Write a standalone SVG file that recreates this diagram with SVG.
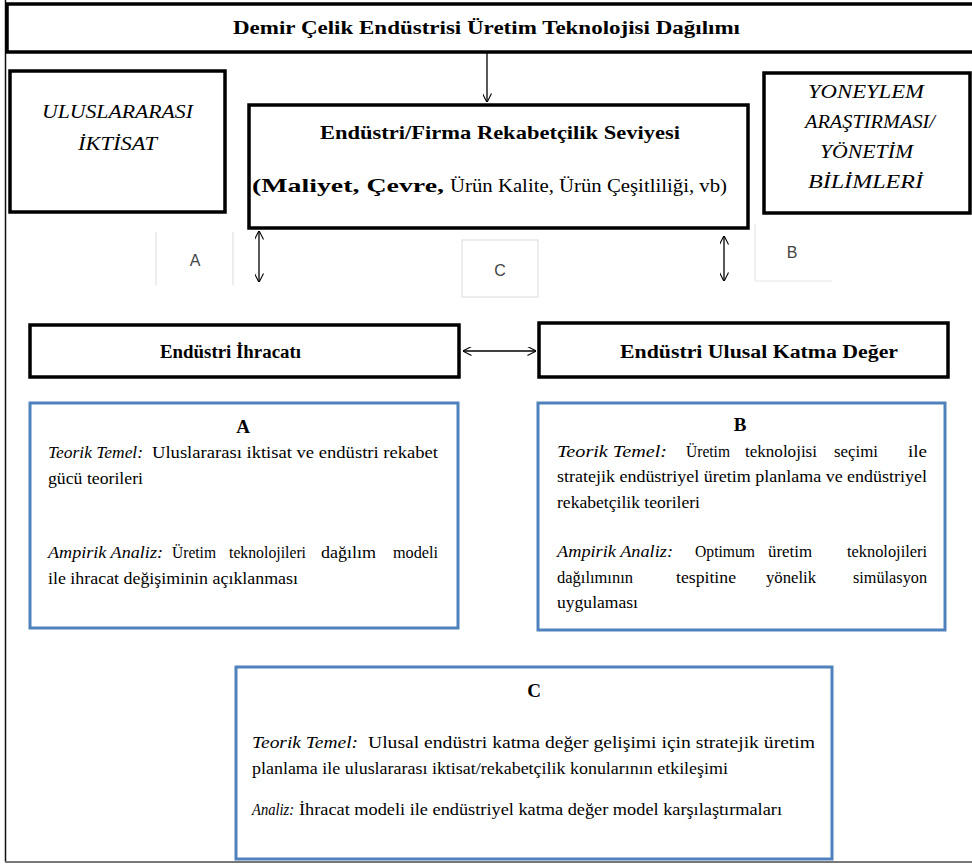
<svg xmlns="http://www.w3.org/2000/svg" width="972" height="864" viewBox="0 0 972 864">
<style>
.bk{fill:#fff;stroke:#000;stroke-width:3.5}
.bl{fill:#fff;stroke:#4f81bd;stroke-width:3}
.lb{fill:#fff;stroke:#e2e2e2;stroke-width:1.2}
text{font-family:'Liberation Serif','Times New Roman',serif;fill:#000}
.b{font-weight:bold}
.i{font-style:italic}
text.s{font-family:'Liberation Sans',Arial,sans-serif;fill:#444;font-size:16px}
.c{stroke:#000;stroke-width:1.3;fill:none}
</style>
<defs>
<marker id="ah" viewBox="0 0 10 10" refX="9.5" refY="5" markerWidth="9" markerHeight="9" orient="auto-start-reverse" markerUnits="userSpaceOnUse"><path d="M0,0 L10,5 L0,10" fill="none" stroke="#000" stroke-width="1.2"/></marker>
</defs>
<rect width="972" height="864" fill="#fff"/>
<g id="frame">
<line x1="5.5" y1="0" x2="5.5" y2="862" stroke="#111" stroke-width="1.5"/>
<line x1="5" y1="862" x2="972" y2="862" stroke="#777" stroke-width="2"/>
</g>
<g id="title">
<rect class="bk" x="7" y="4" width="975" height="48" stroke-width="3"/>
<text class="b" x="233" y="34" font-size="19" textLength="507" lengthAdjust="spacingAndGlyphs">Demir Çelik Endüstrisi Üretim Teknolojisi Dağılımı</text>
</g>
<g id="uluslararasi">
<rect class="bk" x="10" y="71" width="215" height="141"/>
<text class="i" x="42" y="118" font-size="18" textLength="151" lengthAdjust="spacingAndGlyphs">ULUSLARARASI</text>
<text class="i" x="78" y="150" font-size="18" textLength="79" lengthAdjust="spacingAndGlyphs">İKTİSAT</text>
</g>
<g id="rekabet">
<rect class="bk" x="249" y="105" width="499" height="123"/>
<text class="b" x="320" y="139" font-size="19" textLength="360" lengthAdjust="spacingAndGlyphs">Endüstri/Firma Rekabetçilik Seviyesi</text>
<text class="b" x="252" y="192" font-size="19" textLength="192" lengthAdjust="spacingAndGlyphs">(Maliyet, Çevre,</text>
<text x="450" y="192" font-size="19" textLength="277" lengthAdjust="spacingAndGlyphs">Ürün Kalite, Ürün Çeşitliliği, vb)</text>
</g>
<g id="yoneylem">
<rect class="bk" x="764" y="73" width="206" height="140"/>
<text class="i" x="808" y="98" font-size="18" textLength="116" lengthAdjust="spacingAndGlyphs">YONEYLEM</text>
<text class="i" x="805" y="128" font-size="18" textLength="130" lengthAdjust="spacingAndGlyphs">ARAŞTIRMASI/</text>
<text class="i" x="820" y="158" font-size="18" textLength="93" lengthAdjust="spacingAndGlyphs">YÖNETİM</text>
<text class="i" x="808" y="188" font-size="18" textLength="115" lengthAdjust="spacingAndGlyphs">BİLİMLERİ</text>
</g>
<g id="labelA">
<line x1="156" y1="232" x2="156" y2="285" stroke="#e2e2e2" stroke-width="1.2"/>
<line x1="233" y1="232" x2="233" y2="285" stroke="#e2e2e2" stroke-width="1.2"/>
<text class="s" x="195" y="266" text-anchor="middle">A</text>
</g>
<g id="labelC">
<rect class="lb" x="462" y="240" width="76" height="57"/>
<text class="s" x="500" y="276" text-anchor="middle">C</text>
</g>
<g id="labelB">
<line x1="755" y1="224" x2="755" y2="281" stroke="#e6e6e6" stroke-width="1.2"/>
<line x1="755" y1="281" x2="832" y2="281" stroke="#e6e6e6" stroke-width="1.2"/>
<text class="s" x="792" y="258" text-anchor="middle">B</text>
</g>
<g id="ihracat">
<rect class="bk" x="30" y="325" width="429" height="52"/>
<text class="b" x="160" y="358" font-size="18" textLength="141" lengthAdjust="spacingAndGlyphs">Endüstri İhracatı</text>
</g>
<g id="katmadeger">
<rect class="bk" x="539" y="323" width="409" height="54"/>
<text class="b" x="620" y="358" font-size="18" textLength="278" lengthAdjust="spacingAndGlyphs">Endüstri Ulusal Katma Değer</text>
</g>
<g id="connectors">
<line class="c" x1="487" y1="53" x2="487" y2="102" marker-end="url(#ah)"/>
<line class="c" x1="259" y1="231" x2="259" y2="282" marker-start="url(#ah)" marker-end="url(#ah)"/>
<line class="c" x1="724" y1="236" x2="724" y2="281" marker-start="url(#ah)" marker-end="url(#ah)"/>
<line class="c" x1="463" y1="351" x2="536" y2="351" marker-start="url(#ah)" marker-end="url(#ah)"/>
</g>
<g id="boxA" font-size="16">
<rect class="bl" x="30" y="403" width="428" height="225"/>
<text class="b" x="243" y="433" font-size="19" text-anchor="middle">A</text>
<text class="i" x="48" y="458" textLength="95" lengthAdjust="spacingAndGlyphs">Teorik Temel:</text>
<text x="152" y="458" textLength="286" lengthAdjust="spacingAndGlyphs">Uluslararası iktisat ve endüstri rekabet</text>
<text x="48" y="484" textLength="95" lengthAdjust="spacingAndGlyphs">gücü teorileri</text>
<text class="i" x="48" y="558" textLength="115" lengthAdjust="spacingAndGlyphs">Ampirik Analiz:</text>
<text x="172" y="558" textLength="44" lengthAdjust="spacingAndGlyphs">Üretim</text>
<text x="229" y="558" textLength="77" lengthAdjust="spacingAndGlyphs">teknolojileri</text>
<text x="321" y="558" textLength="55" lengthAdjust="spacingAndGlyphs">dağılım</text>
<text x="393" y="558" textLength="45" lengthAdjust="spacingAndGlyphs">modeli</text>
<text x="48" y="584" textLength="250" lengthAdjust="spacingAndGlyphs">ile ihracat değişiminin açıklanması</text>
</g>
<g id="boxB" font-size="16">
<rect class="bl" x="538" y="403" width="407" height="227"/>
<text class="b" x="740" y="431" font-size="19" text-anchor="middle">B</text>
<text class="i" x="557" y="457" textLength="110" lengthAdjust="spacingAndGlyphs">Teorik Temel:</text>
<text x="686" y="457" textLength="44" lengthAdjust="spacingAndGlyphs">Üretim</text>
<text x="745" y="457" textLength="72" lengthAdjust="spacingAndGlyphs">teknolojisi</text>
<text x="834" y="457" textLength="44" lengthAdjust="spacingAndGlyphs">seçimi</text>
<text x="908" y="457" textLength="19" lengthAdjust="spacingAndGlyphs">ile</text>
<text x="557" y="482" textLength="370" lengthAdjust="spacingAndGlyphs">stratejik endüstriyel üretim planlama ve endüstriyel</text>
<text x="557" y="508" textLength="143" lengthAdjust="spacingAndGlyphs">rekabetçilik teorileri</text>
<text class="i" x="557" y="557" textLength="116" lengthAdjust="spacingAndGlyphs">Ampirik Analiz:</text>
<text x="695" y="557" textLength="60" lengthAdjust="spacingAndGlyphs">Optimum</text>
<text x="768" y="557" textLength="44" lengthAdjust="spacingAndGlyphs">üretim</text>
<text x="847" y="557" textLength="80" lengthAdjust="spacingAndGlyphs">teknolojileri</text>
<text x="557" y="583" textLength="76" lengthAdjust="spacingAndGlyphs">dağılımının</text>
<text x="676" y="583" textLength="60" lengthAdjust="spacingAndGlyphs">tespitine</text>
<text x="766" y="583" textLength="50" lengthAdjust="spacingAndGlyphs">yönelik</text>
<text x="853" y="583" textLength="74" lengthAdjust="spacingAndGlyphs">simülasyon</text>
<text x="557" y="608" textLength="81" lengthAdjust="spacingAndGlyphs">uygulaması</text>
</g>
<g id="boxC" font-size="16">
<rect class="bl" x="236" y="667" width="596" height="192"/>
<text class="b" x="534" y="697" font-size="19" text-anchor="middle">C</text>
<text class="i" x="252" y="748" textLength="106" lengthAdjust="spacingAndGlyphs">Teorik Temel:</text>
<text x="368" y="748" textLength="447" lengthAdjust="spacingAndGlyphs">Ulusal endüstri katma değer gelişimi için stratejik üretim</text>
<text x="252" y="774" textLength="476" lengthAdjust="spacingAndGlyphs">planlama ile uluslararası iktisat/rekabetçilik konularının etkileşimi</text>
<text class="i" x="252" y="815" textLength="42" lengthAdjust="spacingAndGlyphs">Analiz:</text>
<text x="299" y="815" textLength="483" lengthAdjust="spacingAndGlyphs">İhracat modeli ile endüstriyel katma değer model karşılaştırmaları</text>
</g>
</svg>
